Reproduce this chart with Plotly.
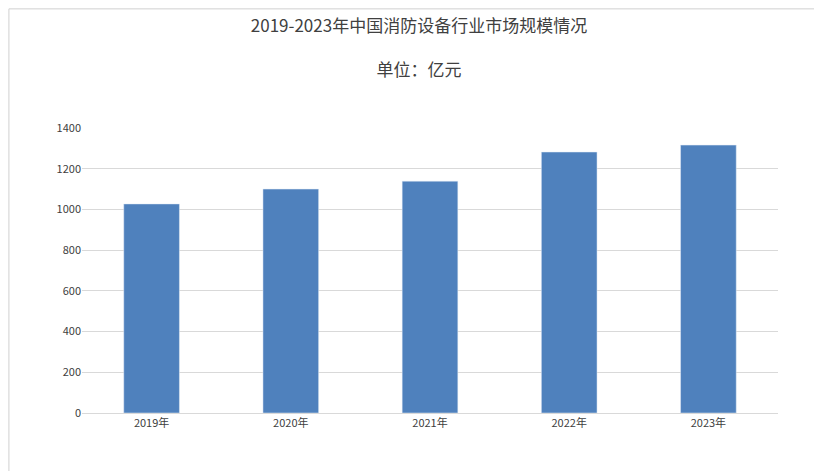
import plotly.graph_objects as go

years = ['2019年', '2020年', '2021年', '2022年', '2023年']
market_size = [1027, 1100, 1139, 1282, 1316]

fig = go.Figure()
fig.add_trace(go.Bar(x=years, y=market_size, marker_color='#4f81bd', width=0.4))

fig.update_layout(
    width=822, height=471,
    margin=dict(l=74, r=52, t=120, b=66),
    paper_bgcolor='white', plot_bgcolor='white',
    font=dict(family='Noto Sans CJK SC', size=11, color='#404040'),
    title=dict(text='2019-2023年中国消防设备行业市场规模情况<br><br>单位：亿元',
               x=0.5, xanchor='center', y=0.95, yanchor='top',
               font=dict(size=17, color='#404040')),
    showlegend=False,
    bargap=0.6,
    shapes=[dict(type='rect', xref='paper', yref='paper', x0=-0.105, x1=1.07, y0=-0.226, y1=1.418,
                 line=dict(color='#d0d0d0', width=1))],
)
fig.update_yaxes(range=[0, 1400], dtick=200, gridcolor='#d9d9d9', zeroline=False,
                 ticks='', tickfont=dict(size=11))
fig.update_xaxes(showline=True, linecolor='#d9d9d9', ticks='', tickfont=dict(size=11))

fig.write_html('out.html')
